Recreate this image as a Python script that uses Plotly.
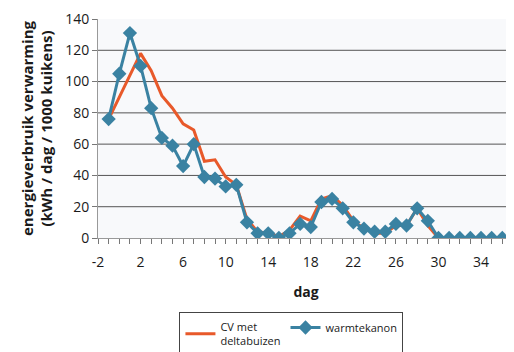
import plotly.graph_objects as go

days_blue = list(range(-1, 37))
warmtekanon = [76, 105, 131, 110, 83, 64, 59, 46, 60, 39, 38, 33, 34, 10, 3, 3, 0, 3, 9, 7,
               23, 25, 19, 10, 6, 4, 4, 9, 8, 19, 11, 0, 0, 0, 0, 0, 0, 0]
days_orange = list(range(-1, 31))
cv_delta = [76, 90, 103, 118, 107, 91, 83, 73, 69, 49, 50, 39, 34, 12, 4, 3, 1, 5, 14, 11,
            25, 27, 21, 11, 6, 3, 3, 8, 8, 19, 8, 0]

x_ticks = list(range(-2, 37, 4))
y_ticks = list(range(0, 141, 20))
grid_vals = list(range(20, 140, 20))

font = "Open Sans, Noto Sans, sans-serif"

fig = go.Figure()
fig.add_trace(go.Scatter(x=days_orange, y=cv_delta, mode="lines",
                         name="CV met<br>deltabuizen",
                         line=dict(color="#e8592a", width=3)))
fig.add_trace(go.Scatter(x=days_blue, y=warmtekanon, mode="lines+markers",
                         name="warmtekanon",
                         line=dict(color="#3a82a2", width=3),
                         marker=dict(symbol="diamond", size=11, color="#3a82a2")))

for g in grid_vals:
    fig.add_shape(type="line", xref="paper", yref="y", x0=0, x1=1, y0=g, y1=g,
                  line=dict(color="#555555", width=1), layer="below")

fig.update_layout(
    width=514, height=352,
    margin=dict(l=90, r=8, t=11, b=122, autoexpand=False),
    paper_bgcolor="#ffffff", plot_bgcolor="#f8f9fb",
    font=dict(family=font, size=14, color="#1a1a1a"),
    showlegend=True,
    legend=dict(orientation="h", x=0.465, xanchor="center", y=-0.338, yanchor="top",
                bordercolor="#444444", borderwidth=1, bgcolor="#ffffff",
                font=dict(size=11, color="#1a1a1a"), itemwidth=30, tracegroupgap=0),
    xaxis=dict(range=[-2, 37.1], tickmode="array", tickvals=x_ticks,
               ticktext=[str(v) for v in x_ticks], automargin=False,
               showgrid=False, zeroline=False, showline=True, linecolor="#999999",
               ticks="outside", ticklen=5, tickcolor="#777777", ticklabelstandoff=6,
               minor=dict(dtick=1, tick0=-2, ticks="outside", ticklen=5, tickcolor="#777777", showgrid=False),
               title=dict(text="<b>dag</b>", font=dict(size=14), standoff=17)),
    yaxis=dict(range=[0, 140], tickmode="array", tickvals=y_ticks, automargin=False,
               showgrid=False, zeroline=False, showline=True, linecolor="#999999",
               ticks="outside", ticklen=5, tickcolor="#777777",
               title=dict(text="<b>energieverbruik verwarming<br>(kWh / dag / 1000 kuikens)</b>",
                          font=dict(size=15), standoff=8)),
)

fig.write_html("out.html")
